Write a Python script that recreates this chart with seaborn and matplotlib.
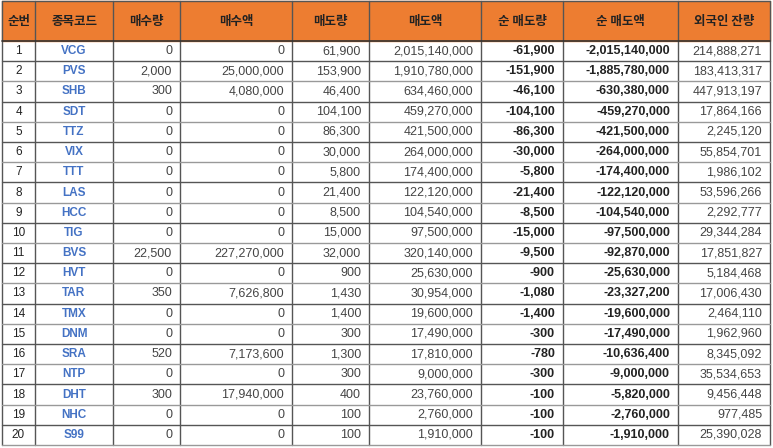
import matplotlib
matplotlib.use("Agg")
import matplotlib.pyplot as plt
import seaborn as sns
from matplotlib.patches import Rectangle

sns.set_theme(style="white")
plt.rcParams["font.family"] = ["Liberation Sans", "Noto Sans CJK JP", "Noto Sans CJK KR", "DejaVu Sans"]

headers = ["순번", "종목코드", "매수량", "매수액", "매도량", "매도액", "순 매도량", "순 매도액", "외국인 잔량"]
rank = list(range(1, 21))
codes = ["VCG","PVS","SHB","SDT","TTZ","VIX","TTT","LAS","HCC","TIG","BVS","HVT","TAR","TMX","DNM","SRA","NTP","DHT","NHC","S99"]
buy_qty = [0,2000,300,0,0,0,0,0,0,0,22500,0,350,0,0,520,0,300,0,0]
buy_amt = [0,25000000,4080000,0,0,0,0,0,0,0,227270000,0,7626800,0,0,7173600,0,17940000,0,0]
sell_qty = [61900,153900,46400,104100,86300,30000,5800,21400,8500,15000,32000,900,1430,1400,300,1300,300,400,100,100]
sell_amt = [2015140000,1910780000,634460000,459270000,421500000,264000000,174400000,122120000,104540000,97500000,
            320140000,25630000,30954000,19600000,17490000,17810000,9000000,23760000,2760000,1910000]
net_qty = [-61900,-151900,-46100,-104100,-86300,-30000,-5800,-21400,-8500,-15000,-9500,-900,-1080,-1400,-300,-780,-300,-100,-100,-100]
net_amt = [-2015140000,-1885780000,-630380000,-459270000,-421500000,-264000000,-174400000,-122120000,-104540000,-97500000,
           -92870000,-25630000,-23327200,-19600000,-17490000,-10636400,-9000000,-5820000,-2760000,-1910000]
foreign = [214888271,183413317,447913197,17864166,2245120,55854701,1986102,53596266,2292777,29344284,
           17851827,5184468,17006430,2464110,1962960,8345092,35534653,9456448,977485,25390028]

cols = [2, 35, 113, 180, 292, 369, 481, 563, 678, 770]
top, head_h, row_h = 1, 40, 20.2

fig = plt.figure(figsize=(7.73, 4.48), dpi=100)
ax = fig.add_axes([0, 0, 1, 1])
ax.set_xlim(0, 773); ax.set_ylim(448, 0); ax.axis("off")

ax.add_patch(Rectangle((cols[0], top), cols[-1]-cols[0], head_h, color="#ED7D31", zorder=0))
for i, h in enumerate(headers):
    ax.text((cols[i]+cols[i+1])/2, top+head_h/2, h, ha="center", va="center", fontsize=9,
            fontweight="bold", color="#222", fontfamily=["Noto Sans CJK JP", "Noto Sans CJK KR"])

data_cols = [rank, codes, buy_qty, buy_amt, sell_qty, sell_amt, net_qty, net_amt, foreign]
for r in range(20):
    yc = top + head_h + row_h*(r+0.5)
    for c, col in enumerate(data_cols):
        v = col[r]
        if c == 0:
            ax.text((cols[0]+cols[1])/2, yc, str(v), ha="center", va="center", fontsize=8.5, color="#222")
        elif c == 1:
            ax.text((cols[1]+cols[2])/2, yc, v, ha="center", va="center", fontsize=8.5, fontweight="bold", color="#4472C4")
        else:
            bold = c in (6, 7)
            ax.text(cols[c+1]-8, yc, f"{v:,}", ha="right", va="center", fontsize=9,
                    fontweight="bold" if bold else "normal", color="#222" if bold else "#444")

bottom = top + head_h + row_h*20
for x in cols:
    ax.plot([x, x], [top, bottom], color="#555", lw=1)
ax.plot([cols[0], cols[-1]], [top, top], color="#555", lw=1)
ax.plot([cols[0], cols[-1]], [top+head_h, top+head_h], color="#333", lw=1.2)
for r in range(1, 21):
    y = top + head_h + row_h*r
    ax.plot([cols[0], cols[-1]], [y, y], color="#555" if r % 2 else "#999", lw=1)

fig.savefig("out.png", dpi=100)
